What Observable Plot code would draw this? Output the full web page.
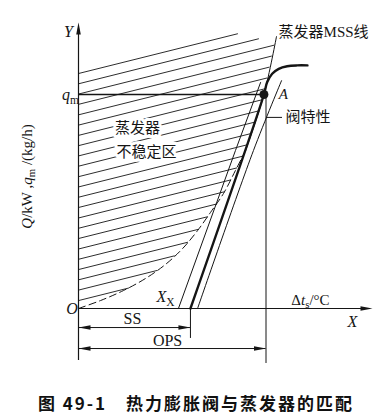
<!DOCTYPE html>
<html><head><meta charset="utf-8">
<script src="https://cdn.jsdelivr.net/npm/d3@7"></script>
<script src="https://cdn.jsdelivr.net/npm/@observablehq/plot@0.6"></script>
<style>
body{margin:0;background:#fff;}
.cap{width:392px;font-family:"Noto Sans CJK SC",sans-serif;font-weight:bold;font-size:17px;line-height:20px;text-align:center;margin-top:8px;letter-spacing:2px;color:#111;}
</style></head><body>
<div id="chart"></div>
<script>
// ---- data (schematic units: X: superheat, OPS = 100 ; Y: capacity, q_m = 100) ----
const hatchStartY = [109.8, 105.0, 100.2, 95.4, 90.5, 85.7, 80.9, 76.1, 71.3, 66.5, 61.6, 56.8, 52.0, 47.2, 42.3, 37.5, 32.7, 27.8, 23.0, 18.2, 13.4, 8.6, 3.7];
const hatchEndX   = [84.8, 96.0, 104.3, 102.9, 101.7, 100.5, 99.3, 97.6, 95.7, 93.9, 91.9, 90.0, 87.5, 84.4, 81.1, 77.9, 73.5, 68.8, 63.8, 58.2, 51.1, 41.8, 26.7];
const hatchSlope = 0.219;

const mssSolidX = [105.6, 98.9, 89.1];
const mssSolidY = [127.1, 100, 73.8];
const mssDashX = [89.1, 83.7, 77.3, 70.4, 63.5, 55.5, 46.4, 35.7, 24.0, 11.7, 0];
const mssDashY = [73.8, 64.5, 53.7, 44.9, 36.4, 28.0, 20.6, 14.0, 8.4, 3.7, 0];

const valveX = [59.7, 98.9, 100.6, 103.3, 106.8, 111.3, 116.6, 122.1];
const valveY = [0, 100, 105.7, 109.7, 112.0, 113.2, 113.6, 113.6];
const xxLineX = [53.3, 83.7, 97.1];
const xxLineY = [0, 73.8, 105.6];
const aLineX = [63.5, 93.3, 108.3];
const aLineY = [0, 73.8, 106.5];

const qm = 100, opX = 98.9, opsX = 100, ssX = 59.7;
const yAxisTop = 133.6, yAxisBottom = -24.3, xAxisEnd = 156.8;
const ssDimY = -8.9, opsDimY = -18.7, ssExtBottom = -14.0, opsExtBottom = -25.7;

const labelText = ["*Y*", "*q*_{m}", "*O*", "*X*", "*A*", "*X*_{X}", "Δ*t*_{s}/°C", "SS", "OPS"];
const labelX    = [-5.3, -4.3, -3.4, 146.1, 109.3, 46.4, 123.7, 28.8, 47.5];
const labelY    = [129.4, 100, 0, -6.1, 100, 5.6, 3.7, -4.7, -15.0];
const labelAnchor = ["middle", "end", "end", "middle", "middle", "middle", "start", "middle", "middle"];
const labelSize = [16, 16, 16, 16, 15, 16, 15, 16, 16];

const cnText = ["蒸发器MSS线", "阀特性"];
const cnX = [106.7, 110.4];
const cnY = [129.0, 89.3];
const regionText = ["蒸发器", "不稳定区"];
const regionX = [31.5, 36.3];
const regionY = [84.1, 72.9];
const leaderX = [100.3, 108.8];
const yTitle = "*Q*/kW ,*q*_{m} /(kg/h)";

// ---- derived tables ----
const hatch = hatchStartY.flatMap((y0, i) => [
  {i, x: 0, y: y0},
  {i, x: hatchEndX[i], y: y0 + hatchSlope * hatchEndX[i]}
]);
const pts = (X, Y) => X.map((x, i) => ({x, y: Y[i]}));
const labels = labelText.map((t, i) => ({t, x: labelX[i], y: labelY[i], a: labelAnchor[i], s: labelSize[i]}));
const arrows = [
  {x: 0, y: yAxisTop, r: 0},
  {x: xAxisEnd, y: 0, r: 90},
  {x: 0, y: ssDimY, r: -90},
  {x: ssX, y: ssDimY, r: 90},
  {x: 0, y: opsDimY, r: -90},
  {x: opsX, y: opsDimY, r: 90}
];
const arrowSymbol = {draw(ctx) { ctx.moveTo(0, 0); ctx.lineTo(-2.3, 12); ctx.lineTo(2.3, 12); ctx.closePath(); }};

const ink = "#151515";
const serif = "Liberation Serif, Noto Sans CJK SC, serif";
const W = 392, H = 385;
const x0 = -78 / 1.875, x1 = (W - 78) / 1.875;
const yLo = (308 - H) / 2.14, yHi = 308 / 2.14;

const marks = [
  Plot.line(hatch, {x: "x", y: "y", z: "i", stroke: ink, strokeWidth: 0.9}),
  Plot.text(regionText.map((t, i) => ({t, x: regionX[i], y: regionY[i]})), {x: "x", y: "y", text: "t", fontSize: 15, fontFamily: serif, fill: ink, stroke: "white", strokeWidth: 6, paintOrder: "stroke"}),
  Plot.ruleY([qm], {x1: 0, x2: opX, stroke: ink, strokeWidth: 1.4}),
  Plot.ruleX([opsX], {y1: qm, y2: opsExtBottom, stroke: ink, strokeWidth: 1}),
  Plot.ruleX([0], {y1: yAxisBottom, y2: yAxisTop - 3, stroke: ink, strokeWidth: 1.2}),
  Plot.ruleY([0], {x1: 0, x2: xAxisEnd - 3, stroke: ink, strokeWidth: 1.2}),
  Plot.ruleX([ssX], {y1: 0, y2: ssExtBottom, stroke: ink, strokeWidth: 1}),
  Plot.ruleY([ssDimY], {x1: 0, x2: ssX, stroke: ink, strokeWidth: 1}),
  Plot.ruleY([opsDimY], {x1: 0, x2: opsX, stroke: ink, strokeWidth: 1}),
  Plot.line(pts(mssSolidX, mssSolidY), {x: "x", y: "y", stroke: ink, strokeWidth: 1, curve: "catmull-rom"}),
  Plot.line(pts(mssDashX, mssDashY), {x: "x", y: "y", stroke: ink, strokeWidth: 1, strokeDasharray: "7,4", curve: "catmull-rom"}),
  Plot.line(pts(xxLineX, xxLineY), {x: "x", y: "y", stroke: ink, strokeWidth: 1}),
  Plot.line(pts(aLineX, aLineY), {x: "x", y: "y", stroke: ink, strokeWidth: 1, curve: "catmull-rom"}),
  Plot.line(pts(valveX, valveY), {x: "x", y: "y", stroke: ink, strokeWidth: 2.4, curve: "catmull-rom"}),
  Plot.dot([{x: opX, y: qm}], {x: "x", y: "y", r: 4.5, fill: ink}),
  Plot.dot(arrows, {x: "x", y: "y", rotate: "r", symbol: arrowSymbol, fill: ink, stroke: "none", r: 5}),
  Plot.ruleY([cnY[1]], {x1: leaderX[0], x2: leaderX[1], stroke: ink, strokeWidth: 1}),
  Plot.text(labels, {x: "x", y: "y", text: "t", textAnchor: "a", fontSize: "s", fontFamily: serif, fill: ink}),
  Plot.text(cnText.map((t, i) => ({t, x: cnX[i], y: cnY[i]})), {x: "x", y: "y", text: "t", textAnchor: "start", fontSize: 15, fontFamily: serif, fill: ink}),
  Plot.text([yTitle], {x: -27.2, y: 61.7, text: d => d, rotate: -90, fontSize: 15, fontFamily: serif, fill: ink})
];

const svg = Plot.plot({
  width: W, height: H,
  marginTop: 0, marginRight: 0, marginBottom: 0, marginLeft: 0,
  x: {domain: [x0, x1], axis: null},
  y: {domain: [yLo, yHi], axis: null},
  style: {background: "white", fontFamily: serif},
  marks
});

// rich text: *italic* and _{subscript}
d3.select(svg).selectAll("text").each(function() {
  const s = this.textContent;
  if (!/[*_]/.test(s)) return;
  const segs = []; let it = false, sub = false, buf = "";
  const push = () => { if (buf) segs.push({t: buf, it, sub}); buf = ""; };
  for (let k = 0; k < s.length; k++) {
    const c = s[k];
    if (c === "*") { push(); it = !it; }
    else if (c === "_" && s[k + 1] === "{") { push(); sub = true; k++; }
    else if (c === "}" && sub) { push(); sub = false; }
    else buf += c;
  }
  push();
  this.textContent = "";
  for (const g of segs) {
    const ts = document.createElementNS("http://www.w3.org/2000/svg", "tspan");
    ts.textContent = g.t;
    if (g.it) ts.setAttribute("font-style", "italic");
    if (g.sub) { ts.setAttribute("font-size", "72%"); ts.setAttribute("baseline-shift", "-30%"); }
    this.appendChild(ts);
  }
});

document.getElementById("chart").appendChild(svg);
const cap = document.createElement("div");
cap.className = "cap";
cap.textContent = "图 49-1　热力膨胀阀与蒸发器的匹配";
document.body.appendChild(cap);
</script>
</body></html>
